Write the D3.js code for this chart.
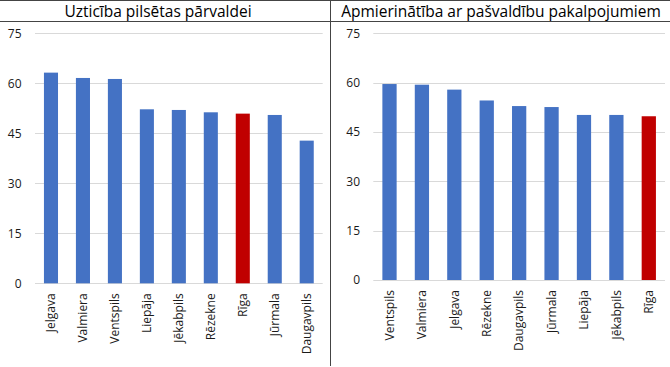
<!DOCTYPE html>
<html>
<head>
<meta charset="utf-8">
<script src="https://cdn.jsdelivr.net/npm/d3@7"></script>
<style>
  body { margin: 0; background: #fff; }
  text { font-family: "Open Sans", sans-serif; fill: #1a1a1a; }
</style>
</head>
<body>
<svg id="chart" width="670" height="367"></svg>
<script>
// left panel: trust in city government
const trustTitle = "Uzticība pilsētas pārvaldei";
const trustCities = ["Jelgava", "Valmiera", "Ventspils", "Liepāja", "Jēkabpils", "Rēzekne", "Rīga", "Jūrmala", "Daugavpils"];
const trustValues = [63.2, 61.6, 61.3, 52.2, 52.0, 51.3, 50.9, 50.5, 42.8];

// right panel: satisfaction with municipal services
const satTitle = "Apmierinātība ar pašvaldību pakalpojumiem";
const satCities = ["Ventspils", "Valmiera", "Jelgava", "Rēzekne", "Daugavpils", "Jūrmala", "Liepāja", "Jēkabpils", "Rīga"];
const satValues = [59.6, 59.4, 57.9, 54.6, 52.9, 52.6, 50.2, 50.2, 49.8];

const yTicks = [0, 15, 30, 45, 60, 75];

const svg = d3.select("#chart");

// frame lines
svg.append("line").attr("x1", 0).attr("x2", 670).attr("y1", 0.5).attr("y2", 0.5)
    .attr("stroke", "#444").attr("stroke-width", 1);
svg.append("line").attr("x1", 0).attr("x2", 670).attr("y1", 21.5).attr("y2", 21.5)
    .attr("stroke", "#444").attr("stroke-width", 1);
svg.append("line").attr("x1", 330.5).attr("x2", 330.5).attr("y1", 0).attr("y2", 366)
    .attr("stroke", "#444").attr("stroke-width", 1);

function panel(cfg) {
    let g = svg.append("g");

    g.append("text")
        .attr("x", cfg.titleX).attr("y", 16.5)
        .attr("text-anchor", "middle")
        .style("font-size", "15.5px")
        .style("fill", "#000")
        .text(cfg.title);

    let x = d3.scaleBand()
        .domain(cfg.cats)
        .range([cfg.x0, cfg.x1])
        .paddingInner(0.56).paddingOuter(0.28);

    let y = d3.scaleLinear().domain([0, 75]).range([cfg.y0, cfg.yTop]);

    g.selectAll(".grid")
        .data(yTicks)
        .enter().append("line")
        .attr("class", "grid")
        .attr("x1", cfg.x0).attr("x2", cfg.x1)
        .attr("y1", d => Math.round(y(d)) + 0.5)
        .attr("y2", d => Math.round(y(d)) + 0.5)
        .attr("stroke", "#d9d9d9").attr("stroke-width", 1);

    g.selectAll(".ylab")
        .data(yTicks)
        .enter().append("text")
        .attr("x", cfg.labX).attr("y", d => y(d))
        .attr("dy", "0.35em")
        .attr("text-anchor", "end")
        .style("font-size", "12px")
        .text(d => d);

    g.selectAll(".bar")
        .data(cfg.vals)
        .enter().append("rect")
        .attr("x", (d, i) => x(cfg.cats[i]))
        .attr("width", x.bandwidth())
        .attr("y", d => y(d))
        .attr("height", d => y(0) - y(d))
        .attr("fill", (d, i) => cfg.cats[i] === "Rīga" ? "#c00000" : "#4472c4");

    g.selectAll(".xlab")
        .data(cfg.cats)
        .enter().append("text")
        .attr("transform", d => "translate(" + (x(d) + x.bandwidth() / 2) + "," + (cfg.y0 + 10) + ") rotate(-90)")
        .attr("dy", "0.35em")
        .attr("text-anchor", "end")
        .style("font-size", "12px")
        .text(d => d);
}

panel({title: trustTitle, cats: trustCities, vals: trustValues, titleX: 158,
       x0: 35, x1: 322.7, y0: 283.3, yTop: 33.3, labX: 21.5});
panel({title: satTitle, cats: satCities, vals: satValues, titleX: 501,
       x0: 373.3, x1: 665, y0: 280, yTop: 33.4, labX: 360});
</script>
</body>
</html>
